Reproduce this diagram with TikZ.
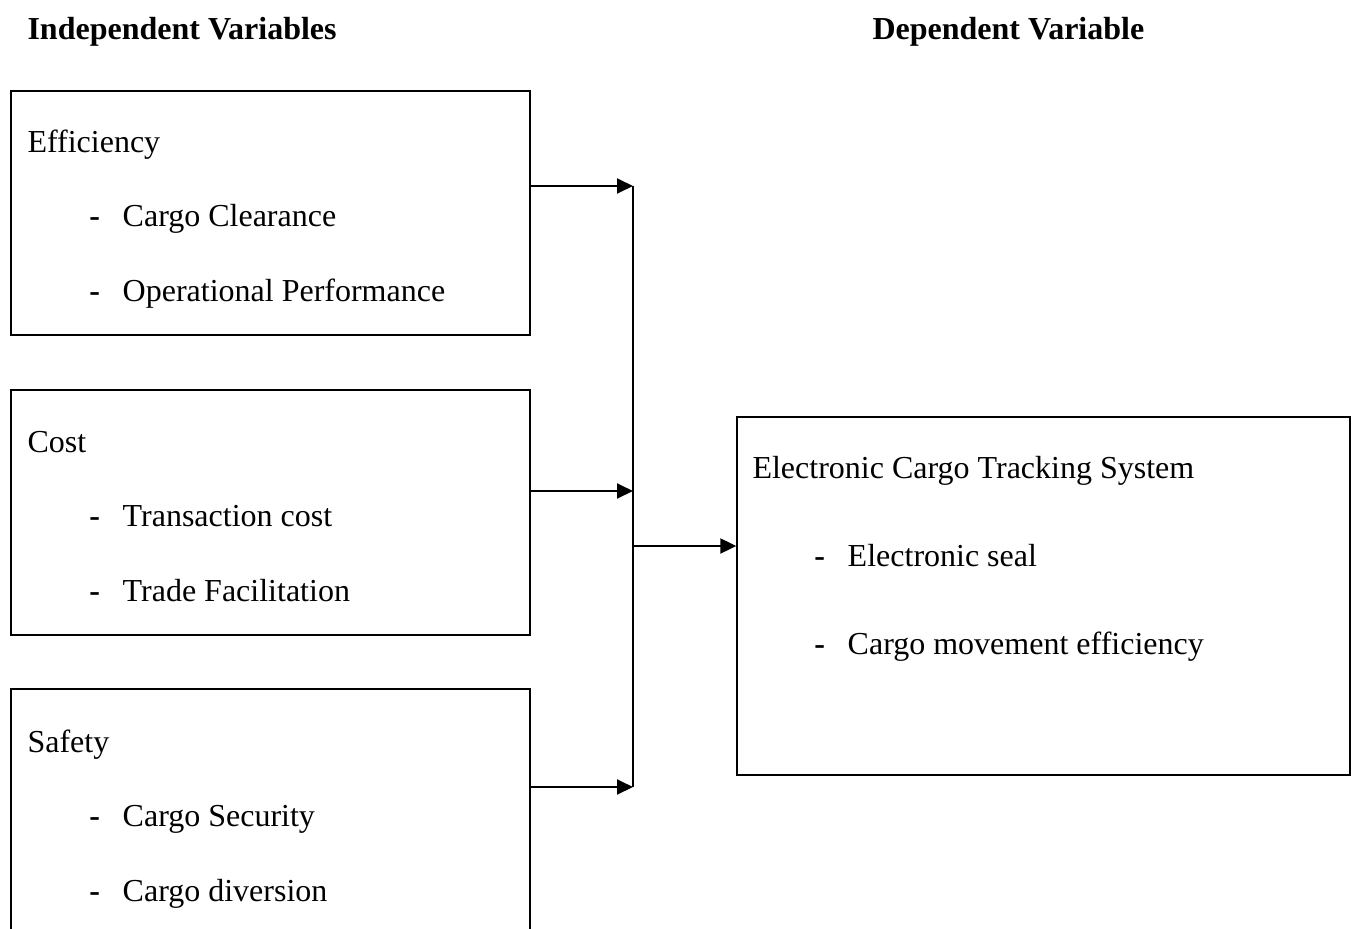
\documentclass[tikz,border=0pt]{standalone}
\usepackage{fontspec}
\setmainfont{Liberation Serif}
\usetikzlibrary{arrows.meta,fit}
% one indented "- item" line inside a box
\newcommand{\dashline}[1]{\makebox[35.7pt][l]{\hspace{23.2pt}\textbf{-}}#1}
\tikzset{
  varbox/.style={draw,line width=0.5pt,inner sep=0pt},
  % base anchor sits on the last line
  boxtext/.style={anchor=base west,align=left,inner sep=0pt,
    font=\fontsize{12}{27.9}\selectfont},
  heading/.style={anchor=base west,inner sep=0pt,font=\fontsize{12}{14}\selectfont\bfseries},
  link/.style={-{Triangle[length=6pt,width=5.6pt]},line width=0.8pt}
}
\begin{document}
\begin{tikzpicture}[x=0.375pt,y=-0.375pt]
  \clip (0,0) rectangle (1356,928);
  % column titles
  \node[heading] (indep) at (27,39) {Independent Variables};
  \node[heading] (dep) at (872,39) {Dependent Variable};
  % independent variable boxes
  \node[varbox,fit={(11,91) (530,335)}] (eff) {};
  \node[varbox,fit={(11,390) (530,635)}] (cost) {};
  \node[varbox,fit={(11,689) (530,945)}] (safety) {};
  \node[boxtext] (eff text) at (27,301)
    {Efficiency\\ \dashline{Cargo Clearance}\\ \dashline{Operational Performance}};
  \node[boxtext] (cost text) at (27,601)
    {Cost\\ \dashline{Transaction cost}\\ \dashline{Trade Facilitation}};
  \node[boxtext] (safety text) at (27,901)
    {Safety\\ \dashline{Cargo Security}\\ \dashline{Cargo diversion}};
  % dependent variable box
  \node[varbox,fit={(737,417) (1350,775)}] (ects) {};
  \node[boxtext,font=\fontsize{12}{33}\selectfont] (ects text) at (752,654)
    {Electronic Cargo Tracking System\\ \dashline{Electronic seal}\\ \dashline{Cargo movement efficiency}};
  % connectors
  \coordinate (bus top) at (633,186);
  \coordinate (bus mid) at (633,491);
  \coordinate (bus bot) at (633,787);
  \coordinate (hub) at (633,546);
  \draw[link] (eff.east |- bus top) -- (bus top);
  \draw[link] (cost.east |- bus mid) -- (bus mid);
  \draw[link] (safety.east |- bus bot) -- (bus bot);
  \draw[line width=0.5pt] (bus top) -- (bus bot);
  \draw[link] (hub) -- (ects.west |- hub);
\end{tikzpicture}
\end{document}
